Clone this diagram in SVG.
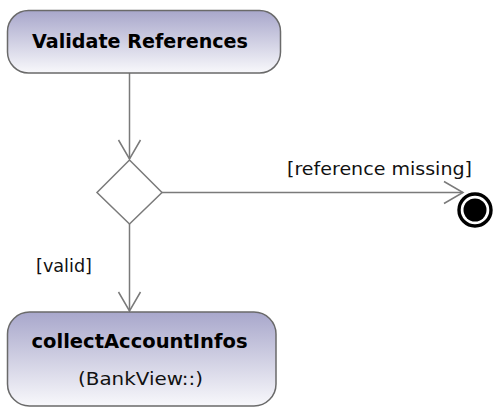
<svg xmlns="http://www.w3.org/2000/svg" width="494" height="408" viewBox="0 0 494 408">
  <defs>
    <linearGradient id="nodeFill" x1="0" y1="0" x2="0" y2="1">
      <stop offset="0" stop-color="#a8a7cb"/>
      <stop offset="1" stop-color="#f8f8fb"/>
    </linearGradient>
    <marker id="openArrow" markerUnits="userSpaceOnUse" markerWidth="30" markerHeight="30" refX="0" refY="0" orient="auto" overflow="visible">
      <path d="M-19,-11 L0,0 L-19,11" fill="none" stroke="#7a7a7a" stroke-width="1.5"/>
    </marker>
    <style>
      .action { fill: url(#nodeFill); stroke: #6a6a6a; stroke-width: 1.5; }
      .title { font-family: "DejaVu Sans", Verdana, sans-serif; font-weight: bold; font-size: 19px; fill: #000; }
      .sub { font-family: "DejaVu Sans", Verdana, sans-serif; font-size: 18px; fill: #111; }
      .guard { font-family: "DejaVu Sans", Verdana, sans-serif; font-size: 18px; fill: #111; }
      .edge { fill: none; stroke: #7a7a7a; stroke-width: 1.5; }
    </style>
  </defs>

  <g id="connectors">
    <line class="edge" x1="129.5" y1="73" x2="129.5" y2="159" marker-end="url(#openArrow)"/>
    <line class="edge" x1="162" y1="192.5" x2="463" y2="192.5" marker-end="url(#openArrow)"/>
    <line class="edge" x1="129.5" y1="224" x2="129.5" y2="311" marker-end="url(#openArrow)"/>
    <text class="guard" x="287" y="175" textLength="185" lengthAdjust="spacingAndGlyphs">[reference missing]</text>
    <text class="guard" x="36" y="272" textLength="56" lengthAdjust="spacingAndGlyphs">[valid]</text>
  </g>

  <g id="validateReferences">
    <rect class="action" x="7.5" y="10.5" width="273" height="62.5" rx="21" ry="21"/>
    <text class="title" x="32" y="48" textLength="216" lengthAdjust="spacingAndGlyphs">Validate References</text>
  </g>

  <g id="decision">
    <polygon points="129.5,160 162,192.5 129.5,224 97,192.5" fill="#fff" stroke="#7a7a7a" stroke-width="1.5"/>
  </g>

  <g id="finalNode">
    <circle cx="475" cy="210" r="16" fill="#fff" stroke="#000" stroke-width="3.4"/>
    <circle cx="475" cy="210" r="11.5" fill="#000"/>
  </g>

  <g id="collectAccountInfos">
    <rect class="action" x="7.5" y="312" width="268.5" height="94" rx="22" ry="22"/>
    <text class="title" x="31.5" y="348" textLength="216" lengthAdjust="spacingAndGlyphs">collectAccountInfos</text>
    <text class="sub" x="78" y="385" textLength="125" lengthAdjust="spacingAndGlyphs">(BankView::)</text>
  </g>
</svg>
